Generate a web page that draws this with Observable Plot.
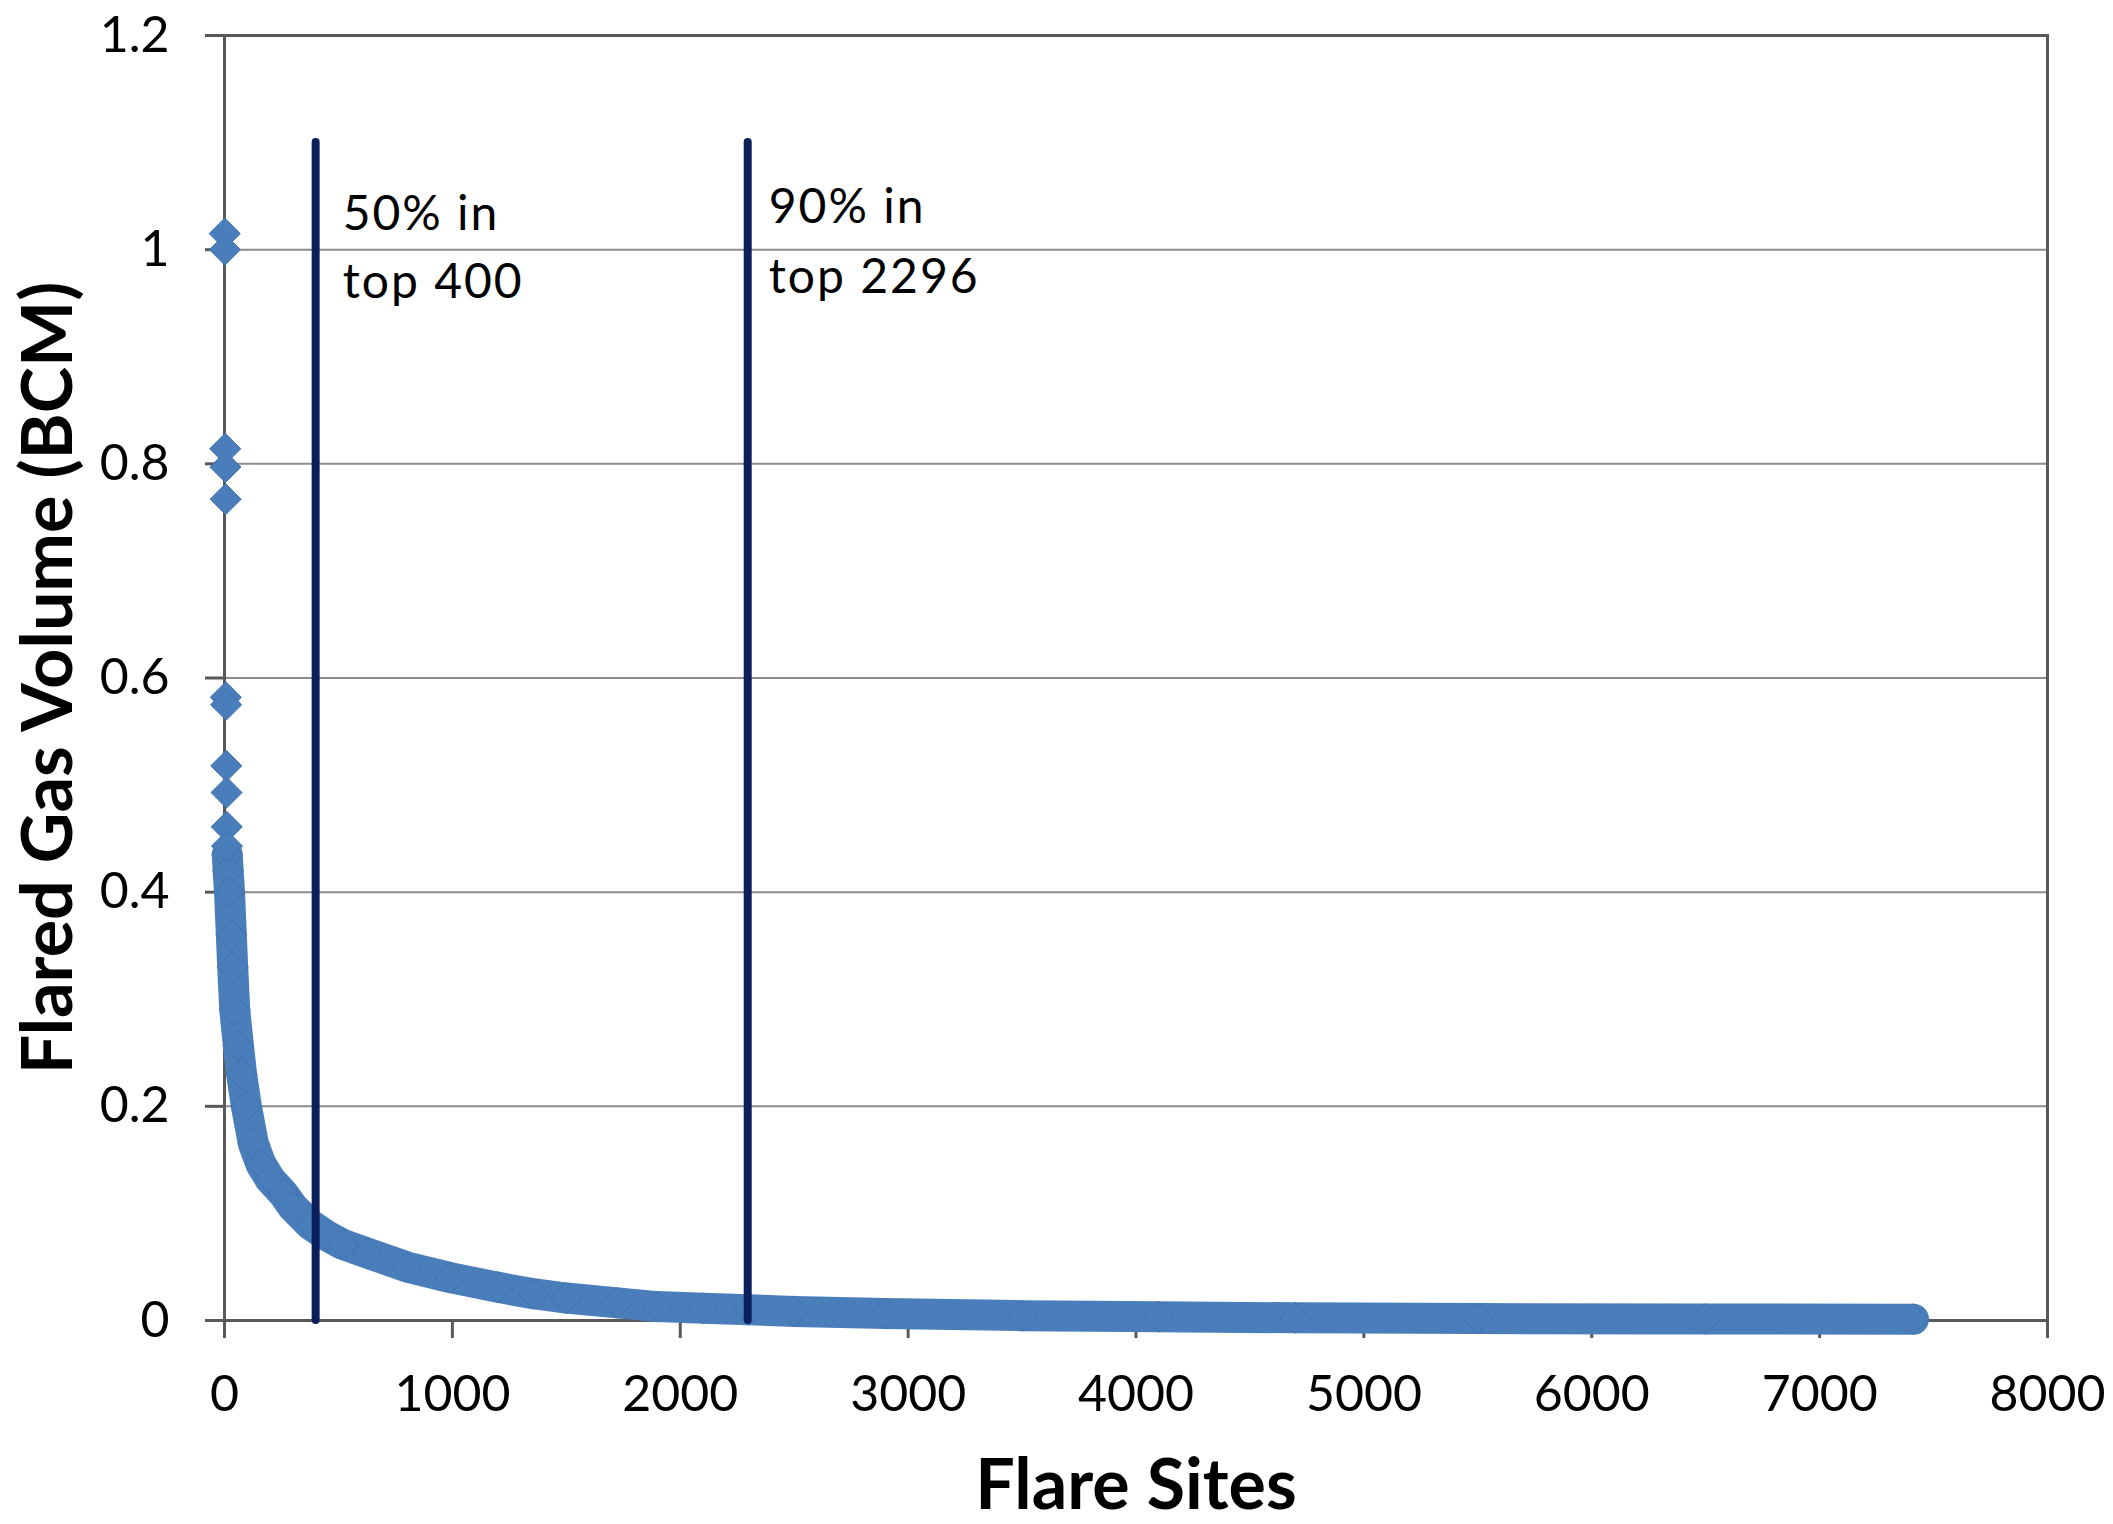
<!DOCTYPE html>
<html><head><meta charset="utf-8">
<script src="https://cdn.jsdelivr.net/npm/d3@7"></script>
<script src="https://cdn.jsdelivr.net/npm/@observablehq/plot@0.6"></script>
<style>
html,body{margin:0;padding:0;background:#fff;}
</style>
</head><body><div id="chart"></div>
<script>
// Largest flare sites (plotted individually)
const topRanks  = [1, 2, 3, 4, 5, 6, 7, 8, 9, 10, 11];
const topValues = [1.015, 1.0, 0.814, 0.797, 0.767, 0.582, 0.575, 0.518, 0.493, 0.461, 0.443];
// Dense ranked curve
const curveRanks  = [12, 16, 22, 30, 36, 45, 61, 75, 96, 127, 160, 200, 260, 300, 380, 450, 520, 627, 800, 991, 1200, 1355, 1500, 1724, 1900, 2100, 2300, 2500, 2900, 3500, 4100, 4700, 5500, 6500, 7412];
const curveValues = [0.435, 0.42, 0.40, 0.36, 0.33, 0.29, 0.257, 0.23, 0.20, 0.165, 0.146, 0.132, 0.118, 0.106, 0.089, 0.079, 0.071, 0.063, 0.05, 0.04, 0.031, 0.025, 0.021, 0.0165, 0.013, 0.0115, 0.010, 0.0085, 0.0065, 0.0045, 0.0035, 0.0025, 0.0018, 0.0014, 0.0012];
// Threshold markers
const markerRanks  = [400, 2296];
const markerTop    = 1.1;
const markerLabels = ["50% in\ntop 400", "90% in\ntop 2296"];
// Axes
const xTicks = [0, 1000, 2000, 3000, 4000, 5000, 6000, 7000, 8000];
const yTicks = [0, 0.2, 0.4, 0.6, 0.8, 1, 1.2];
const xTitle = "Flare Sites";
const yTitle = "Flared Gas Volume (BCM)";

const blue = "#4a7ebb";
const navy = "#0b1f5b";

const curve = curveRanks.map((r, i) => ({rank: r, value: curveValues[i]}));
const tops = topRanks.map((r, i) => ({rank: r, value: topValues[i]}));
const markers = markerRanks.map((r, i) => ({rank: r, top: markerTop, label: markerLabels[i]}));

const chart = Plot.plot({
  width: 2113,
  height: 1524,
  marginLeft: 224,
  marginRight: 66,
  marginTop: 35,
  marginBottom: 204,
  style: {fontFamily: "Lato, 'Open Sans', sans-serif", fontSize: "50px", color: "#000", background: "#fff"},
  x: {domain: [0, 8000]},
  y: {domain: [0, 1.2]},
  marks: [
    Plot.gridY(yTicks, {stroke: "#8c8c8c", strokeOpacity: 1, strokeWidth: 2}),
    Plot.frame({stroke: "#595959", strokeWidth: 3}),
    Plot.axisX(xTicks, {tickSize: 18, tickPadding: 37, stroke: "#595959", strokeWidth: 3, fill: "#000", label: null, tickFormat: d3.format("d")}),
    Plot.axisY(yTicks, {tickSize: 19, tickPadding: 36, stroke: "#595959", strokeWidth: 3, fill: "#000", label: null, tickFormat: d3.format("~g")}),
    Plot.line(curve, {x: "rank", y: "value", stroke: blue, strokeWidth: 31, strokeLinejoin: "round"}),
    Plot.dot(curve, {x: "rank", y: "value", symbol: "diamond2", r: 14, fill: blue, stroke: "#3f71ae", strokeWidth: 1}),
    Plot.dot(tops, {x: "rank", y: "value", symbol: "diamond2", r: 14, fill: blue, stroke: "#3f71ae", strokeWidth: 1}),
    Plot.ruleX(markers, {x: "rank", y1: 0, y2: "top", stroke: navy, strokeWidth: 8, strokeLinecap: "round"}),
    Plot.text(markers.slice(0, 1), {x: "rank", y: "top", text: "label", textAnchor: "start", lineAnchor: "top", dx: 27, dy: 39, fontSize: 48, lineHeight: 1.42, fill: "#000"}),
    Plot.text(markers.slice(1, 2), {x: "rank", y: "top", text: "label", textAnchor: "start", lineAnchor: "top", dx: 21, dy: 31, fontSize: 48, lineHeight: 1.46, fill: "#000"}),
    Plot.text([xTitle], {text: d => d, frameAnchor: "bottom", lineAnchor: "bottom", dy: 188, fontSize: 70, fontWeight: "bold", fill: "#000"}),
    Plot.text([yTitle], {text: d => d, frameAnchor: "left", textAnchor: "middle", rotate: -90, lineAnchor: "bottom", dx: -153, fontSize: 70, fontWeight: "bold", fill: "#000"})
  ]
});

d3.select(chart).selectAll("text").filter(function () { return /%/.test(this.textContent); }).attr("letter-spacing", "2px");
document.getElementById("chart").appendChild(chart);
</script>
</body></html>
